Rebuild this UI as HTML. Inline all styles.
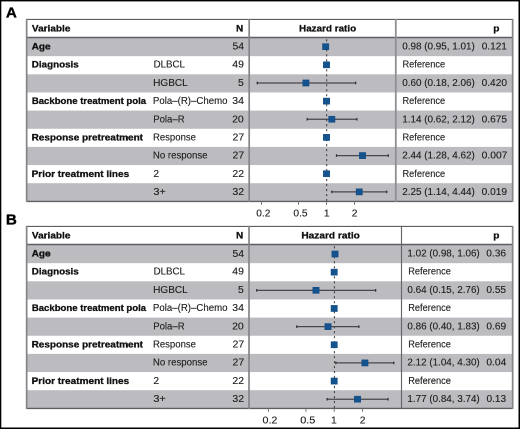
<!DOCTYPE html>
<html><head><meta charset="utf-8"><style>
html,body{margin:0;padding:0;background:#fff;}
body{width:520px;height:429px;overflow:hidden;position:relative;}
#w{position:absolute;left:0;top:0;width:1040px;height:858px;transform-origin:0 0;transform:scale(0.5);will-change:transform;}
svg{display:block;}
text{font-family:"Liberation Sans",sans-serif;fill:#1e1e1e;}
.b{font-weight:bold;font-size:9.6px;fill:#111;stroke:#111;stroke-width:0.3px;}
.r{font-size:9.7px;stroke:#1e1e1e;stroke-width:0.12px;}
.lab{font-weight:bold;font-size:15.2px;fill:#000;stroke:#000;stroke-width:0.35px;}
</style></head><body>
<div id="w"><svg width="1040" height="858" viewBox="0 0 520 429">
<rect x="0" y="0" width="520" height="429" fill="#fff"/>
<text id="a_lab" transform="translate(5.900 17.40) scale(1 1)" class="lab">A</text>
<rect x="26.3" y="19.2" width="486.3" height="182.15" fill="#fff"/>
<rect x="26.3" y="38.00" width="486.3" height="18.15" fill="#bcbbc0"/>
<rect x="26.3" y="74.30" width="486.3" height="18.15" fill="#bcbbc0"/>
<rect x="26.3" y="110.60" width="486.3" height="18.15" fill="#bcbbc0"/>
<rect x="26.3" y="146.90" width="486.3" height="18.15" fill="#bcbbc0"/>
<rect x="26.3" y="183.20" width="486.3" height="18.15" fill="#bcbbc0"/>
<line x1="326.7" y1="39.3" x2="326.7" y2="201.35" stroke="#383838" stroke-width="1.0" stroke-dasharray="2.1 2.89"/>
<line x1="26.3" y1="19.45" x2="512.6" y2="19.45" stroke="#5f5e62" stroke-width="1.2"/>
<line x1="26.3" y1="37.5" x2="512.6" y2="37.5" stroke="#5f5e62" stroke-width="1.4"/>
<line x1="26.3" y1="201.45" x2="512.6" y2="201.45" stroke="#5f5e62" stroke-width="1.3"/>
<line x1="26.66" y1="18.9" x2="26.66" y2="202.04999999999998" stroke="#858488" stroke-width="1.7"/>
<line x1="249.2" y1="18.9" x2="249.2" y2="202.04999999999998" stroke="#858488" stroke-width="1.7"/>
<line x1="395.8" y1="18.9" x2="395.8" y2="202.04999999999998" stroke="#908f93" stroke-width="1.8"/>
<line x1="512.66" y1="18.9" x2="512.66" y2="202.04999999999998" stroke="#858488" stroke-width="1.7"/>
<text id="a_hv" transform="translate(31.936 31.40) scale(1.0459 1)" class="b">Variable</text>
<text id="a_hn" transform="translate(236.049 31.40) scale(1.0406 1)" class="b">N</text>
<text id="a_hhr" transform="translate(299.059 31.40) scale(1.0292 1)" class="b">Hazard ratio</text>
<text id="a_hp" transform="translate(493.258 31.40) scale(1.0544 1)" class="b">p</text>
<text id="a_v0" transform="translate(31.568 49.50) scale(1.0520 1)" class="b">Age</text>
<text id="a_n0" transform="translate(232.522 49.50) scale(1.0690 1)" class="r">54</text>
<text id="a_hr0" transform="translate(402.188 49.50) scale(1.0208 1)" class="r">0.98 (0.95, 1.01)</text>
<text id="a_p0" transform="translate(481.718 49.50) scale(1.0379 1)" class="r">0.121</text>
<line x1="324.43" y1="46.68" x2="326.90" y2="46.68" stroke="#48484c" stroke-width="1.25"/>
<line x1="324.43" y1="45.38" x2="324.43" y2="47.98" stroke="#2a2a2a" stroke-width="1.2"/>
<line x1="326.90" y1="45.38" x2="326.90" y2="47.98" stroke="#2a2a2a" stroke-width="1.2"/>
<rect x="322.48" y="43.58" width="6.4" height="6.2" fill="#14538e" stroke="#0f4a82" stroke-width="0.45"/>
<text id="a_v1" transform="translate(31.810 67.69) scale(1.0240 1)" class="b">Diagnosis</text>
<text id="a_s1" transform="translate(153.606 67.69) scale(1.0039 1)" class="r">DLBCL</text>
<text id="a_n1" transform="translate(232.260 67.69) scale(1.0800 1)" class="r">49</text>
<text id="a_hr1" transform="translate(402.451 67.69) scale(0.9546 1)" class="r">Reference</text>
<rect x="323.30" y="61.72" width="6.4" height="6.2" fill="#14538e" stroke="#0f4a82" stroke-width="0.45"/>
<text id="a_s2" transform="translate(153.175 85.88) scale(1.0353 1)" class="r">HGBCL</text>
<text id="a_n2" transform="translate(237.999 85.88) scale(1.0800 1)" class="r">5</text>
<text id="a_hr2" transform="translate(402.188 85.88) scale(1.0208 1)" class="r">0.60 (0.18, 2.06)</text>
<text id="a_p2" transform="translate(481.582 85.88) scale(1.0484 1)" class="r">0.420</text>
<line x1="257.24" y1="82.97" x2="355.69" y2="82.97" stroke="#48484c" stroke-width="1.25"/>
<line x1="257.24" y1="81.67" x2="257.24" y2="84.27" stroke="#2a2a2a" stroke-width="1.2"/>
<line x1="355.69" y1="81.67" x2="355.69" y2="84.27" stroke="#2a2a2a" stroke-width="1.2"/>
<rect x="302.67" y="79.88" width="6.4" height="6.2" fill="#14538e" stroke="#0f4a82" stroke-width="0.45"/>
<text id="a_v3" transform="translate(31.826 104.07) scale(0.9972 1)" class="b">Backbone treatment pola</text>
<text id="a_s3" transform="translate(152.917 104.07) scale(0.9959 1)" class="r">Pola–(R)–Chemo</text>
<text id="a_n3" transform="translate(232.284 104.07) scale(1.0800 1)" class="r">34</text>
<text id="a_hr3" transform="translate(402.451 104.07) scale(0.9546 1)" class="r">Reference</text>
<rect x="323.30" y="98.02" width="6.4" height="6.2" fill="#14538e" stroke="#0f4a82" stroke-width="0.45"/>
<text id="a_s4" transform="translate(153.241 122.26) scale(0.9869 1)" class="r">Pola–R</text>
<text id="a_n4" transform="translate(232.108 122.26) scale(1.0800 1)" class="r">20</text>
<text id="a_hr4" transform="translate(402.188 122.26) scale(1.0208 1)" class="r">1.14 (0.62, 2.12)</text>
<text id="a_p4" transform="translate(481.631 122.26) scale(1.0462 1)" class="r">0.675</text>
<line x1="307.19" y1="119.27" x2="356.85" y2="119.27" stroke="#48484c" stroke-width="1.25"/>
<line x1="307.19" y1="117.97" x2="307.19" y2="120.57" stroke="#2a2a2a" stroke-width="1.2"/>
<line x1="356.85" y1="117.97" x2="356.85" y2="120.57" stroke="#2a2a2a" stroke-width="1.2"/>
<rect x="328.59" y="116.17" width="6.4" height="6.2" fill="#14538e" stroke="#0f4a82" stroke-width="0.45"/>
<text id="a_v5" transform="translate(31.601 140.45) scale(1.0403 1)" class="b">Response pretreatment</text>
<text id="a_s5" transform="translate(152.939 140.45) scale(0.9861 1)" class="r">Response</text>
<text id="a_n5" transform="translate(232.561 140.45) scale(1.0800 1)" class="r">27</text>
<text id="a_hr5" transform="translate(402.451 140.45) scale(0.9546 1)" class="r">Reference</text>
<rect x="323.30" y="134.32" width="6.4" height="6.2" fill="#14538e" stroke="#0f4a82" stroke-width="0.45"/>
<text id="a_s6" transform="translate(152.913 158.64) scale(0.9955 1)" class="r">No response</text>
<text id="a_n6" transform="translate(232.560 158.64) scale(1.0800 1)" class="r">27</text>
<text id="a_hr6" transform="translate(402.188 158.64) scale(1.0208 1)" class="r">2.44 (1.28, 4.62)</text>
<text id="a_p6" transform="translate(481.631 158.64) scale(1.0617 1)" class="r">0.007</text>
<line x1="336.47" y1="155.57" x2="388.31" y2="155.57" stroke="#48484c" stroke-width="1.25"/>
<line x1="336.47" y1="154.27" x2="336.47" y2="156.87" stroke="#2a2a2a" stroke-width="1.2"/>
<line x1="388.31" y1="154.27" x2="388.31" y2="156.87" stroke="#2a2a2a" stroke-width="1.2"/>
<rect x="359.33" y="152.47" width="6.4" height="6.2" fill="#14538e" stroke="#0f4a82" stroke-width="0.45"/>
<text id="a_v7" transform="translate(31.597 176.83) scale(1.0473 1)" class="b">Prior treatment lines</text>
<text id="a_s7" transform="translate(153.376 176.83) scale(1.0600 1)" class="r">2</text>
<text id="a_n7" transform="translate(232.421 176.83) scale(1.0800 1)" class="r">22</text>
<text id="a_hr7" transform="translate(402.451 176.83) scale(0.9546 1)" class="r">Reference</text>
<rect x="323.30" y="170.62" width="6.4" height="6.2" fill="#14538e" stroke="#0f4a82" stroke-width="0.45"/>
<text id="a_s8" transform="translate(153.354 195.02) scale(1.1255 1)" class="r">3+</text>
<text id="a_n8" transform="translate(232.396 195.02) scale(1.0800 1)" class="r">32</text>
<text id="a_hr8" transform="translate(402.188 195.02) scale(1.0208 1)" class="r">2.25 (1.14, 4.44)</text>
<text id="a_p8" transform="translate(481.615 195.02) scale(1.0497 1)" class="r">0.019</text>
<line x1="331.79" y1="191.87" x2="386.71" y2="191.87" stroke="#48484c" stroke-width="1.25"/>
<line x1="331.79" y1="190.57" x2="331.79" y2="193.17" stroke="#2a2a2a" stroke-width="1.2"/>
<line x1="386.71" y1="190.57" x2="386.71" y2="193.17" stroke="#2a2a2a" stroke-width="1.2"/>
<rect x="356.05" y="188.77" width="6.4" height="6.2" fill="#14538e" stroke="#0f4a82" stroke-width="0.45"/>
<line x1="261.50" y1="202.35" x2="261.50" y2="204.65" stroke="#5a5a5a" stroke-width="0.95"/>
<text id="a_ax0" transform="translate(256.250 216.50) scale(1.0469 1)" class="r">0.2</text>
<line x1="298.50" y1="202.35" x2="298.50" y2="204.65" stroke="#5a5a5a" stroke-width="0.95"/>
<text id="a_ax1" transform="translate(293.436 216.50) scale(1.0510 1)" class="r">0.5</text>
<line x1="326.50" y1="202.35" x2="326.50" y2="204.65" stroke="#5a5a5a" stroke-width="0.95"/>
<text id="a_ax2" transform="translate(323.865 216.50) scale(1.0600 1)" class="r">1</text>
<line x1="354.50" y1="202.35" x2="354.50" y2="204.65" stroke="#5a5a5a" stroke-width="0.95"/>
<text id="a_ax3" transform="translate(351.719 216.50) scale(1.0600 1)" class="r">2</text>
<text id="b_lab" transform="translate(5.900 224.40) scale(1 1)" class="lab">B</text>
<rect x="26.3" y="226.2" width="486.3" height="182.15000000000003" fill="#fff"/>
<rect x="26.3" y="245.00" width="486.3" height="18.15" fill="#bcbbc0"/>
<rect x="26.3" y="281.30" width="486.3" height="18.15" fill="#bcbbc0"/>
<rect x="26.3" y="317.60" width="486.3" height="18.15" fill="#bcbbc0"/>
<rect x="26.3" y="353.90" width="486.3" height="18.15" fill="#bcbbc0"/>
<rect x="26.3" y="390.20" width="486.3" height="18.15" fill="#bcbbc0"/>
<line x1="334.4" y1="246.3" x2="334.4" y2="408.35" stroke="#383838" stroke-width="1.0" stroke-dasharray="2.1 2.89"/>
<line x1="26.3" y1="226.45" x2="512.6" y2="226.45" stroke="#5f5e62" stroke-width="1.2"/>
<line x1="26.3" y1="244.5" x2="512.6" y2="244.5" stroke="#5f5e62" stroke-width="1.4"/>
<line x1="26.3" y1="408.45000000000005" x2="512.6" y2="408.45000000000005" stroke="#5f5e62" stroke-width="1.3"/>
<line x1="26.66" y1="225.89999999999998" x2="26.66" y2="409.05" stroke="#858488" stroke-width="1.7"/>
<line x1="249.0" y1="225.89999999999998" x2="249.0" y2="409.05" stroke="#858488" stroke-width="1.7"/>
<line x1="401.5" y1="225.89999999999998" x2="401.5" y2="409.05" stroke="#68666a" stroke-width="1.15"/>
<line x1="512.66" y1="225.89999999999998" x2="512.66" y2="409.05" stroke="#858488" stroke-width="1.7"/>
<text id="b_hv" transform="translate(31.936 238.40) scale(1.0459 1)" class="b">Variable</text>
<text id="b_hn" transform="translate(236.049 238.40) scale(1.0406 1)" class="b">N</text>
<text id="b_hhr" transform="translate(301.352 238.40) scale(1.0544 1)" class="b">Hazard ratio</text>
<text id="b_hp" transform="translate(493.258 238.40) scale(1.0544 1)" class="b">p</text>
<text id="b_v0" transform="translate(31.568 256.50) scale(1.0520 1)" class="b">Age</text>
<text id="b_n0" transform="translate(232.522 256.75) scale(1.0690 1)" class="r">54</text>
<text id="b_hr0" transform="translate(407.404 256.50) scale(1.0180 1)" class="r">1.02 (0.98, 1.06)</text>
<text id="b_p0" transform="translate(486.298 256.50) scale(1.0442 1)" class="r">0.36</text>
<line x1="333.38" y1="254.02" x2="336.58" y2="254.02" stroke="#48484c" stroke-width="1.25"/>
<line x1="333.38" y1="252.72" x2="333.38" y2="255.32" stroke="#2a2a2a" stroke-width="1.2"/>
<line x1="336.58" y1="252.72" x2="336.58" y2="255.32" stroke="#2a2a2a" stroke-width="1.2"/>
<rect x="331.81" y="250.92" width="6.4" height="6.2" fill="#14538e" stroke="#0f4a82" stroke-width="0.45"/>
<text id="b_v1" transform="translate(31.810 274.69) scale(1.0240 1)" class="b">Diagnosis</text>
<text id="b_s1" transform="translate(153.606 274.69) scale(1.0039 1)" class="r">DLBCL</text>
<text id="b_n1" transform="translate(232.260 274.69) scale(1.0800 1)" class="r">49</text>
<text id="b_hr1" transform="translate(408.213 274.69) scale(0.9546 1)" class="r">Reference</text>
<rect x="331.00" y="269.07" width="6.4" height="6.2" fill="#14538e" stroke="#0f4a82" stroke-width="0.45"/>
<text id="b_s2" transform="translate(153.175 292.88) scale(1.0353 1)" class="r">HGBCL</text>
<text id="b_n2" transform="translate(237.999 292.88) scale(1.0800 1)" class="r">5</text>
<text id="b_hr2" transform="translate(407.404 292.88) scale(1.0180 1)" class="r">0.64 (0.15, 2.76)</text>
<text id="b_p2" transform="translate(486.433 292.88) scale(1.0384 1)" class="r">0.55</text>
<line x1="256.75" y1="290.32" x2="375.65" y2="290.32" stroke="#48484c" stroke-width="1.25"/>
<line x1="256.75" y1="289.02" x2="256.75" y2="291.62" stroke="#2a2a2a" stroke-width="1.2"/>
<line x1="375.65" y1="289.02" x2="375.65" y2="291.62" stroke="#2a2a2a" stroke-width="1.2"/>
<rect x="312.78" y="287.22" width="6.4" height="6.2" fill="#14538e" stroke="#0f4a82" stroke-width="0.45"/>
<text id="b_v3" transform="translate(31.826 311.07) scale(0.9972 1)" class="b">Backbone treatment pola</text>
<text id="b_s3" transform="translate(152.917 311.07) scale(0.9959 1)" class="r">Pola–(R)–Chemo</text>
<text id="b_n3" transform="translate(232.284 311.07) scale(1.0800 1)" class="r">34</text>
<text id="b_hr3" transform="translate(408.213 311.07) scale(0.9546 1)" class="r">Reference</text>
<rect x="331.00" y="305.37" width="6.4" height="6.2" fill="#14538e" stroke="#0f4a82" stroke-width="0.45"/>
<text id="b_s4" transform="translate(153.241 329.26) scale(0.9869 1)" class="r">Pola–R</text>
<text id="b_n4" transform="translate(232.108 329.26) scale(1.0800 1)" class="r">20</text>
<text id="b_hr4" transform="translate(407.404 329.26) scale(1.0180 1)" class="r">0.86 (0.40, 1.83)</text>
<text id="b_p4" transform="translate(486.412 329.26) scale(1.0420 1)" class="r">0.69</text>
<line x1="296.79" y1="326.62" x2="358.87" y2="326.62" stroke="#48484c" stroke-width="1.25"/>
<line x1="296.79" y1="325.32" x2="296.79" y2="327.93" stroke="#2a2a2a" stroke-width="1.2"/>
<line x1="358.87" y1="325.32" x2="358.87" y2="327.93" stroke="#2a2a2a" stroke-width="1.2"/>
<rect x="324.84" y="323.52" width="6.4" height="6.2" fill="#14538e" stroke="#0f4a82" stroke-width="0.45"/>
<text id="b_v5" transform="translate(31.601 347.45) scale(1.0403 1)" class="b">Response pretreatment</text>
<text id="b_s5" transform="translate(152.939 347.45) scale(0.9861 1)" class="r">Response</text>
<text id="b_n5" transform="translate(232.561 347.45) scale(1.0800 1)" class="r">27</text>
<text id="b_hr5" transform="translate(408.213 347.45) scale(0.9546 1)" class="r">Reference</text>
<rect x="331.00" y="341.67" width="6.4" height="6.2" fill="#14538e" stroke="#0f4a82" stroke-width="0.45"/>
<text id="b_s6" transform="translate(152.913 365.64) scale(0.9955 1)" class="r">No response</text>
<text id="b_n6" transform="translate(232.560 365.64) scale(1.0800 1)" class="r">27</text>
<text id="b_hr6" transform="translate(407.404 365.64) scale(1.0180 1)" class="r">2.12 (1.04, 4.30)</text>
<text id="b_p6" transform="translate(486.382 365.64) scale(1.0530 1)" class="r">0.04</text>
<line x1="335.80" y1="362.92" x2="393.75" y2="362.92" stroke="#48484c" stroke-width="1.25"/>
<line x1="335.80" y1="361.62" x2="335.80" y2="364.22" stroke="#2a2a2a" stroke-width="1.2"/>
<line x1="393.75" y1="361.62" x2="393.75" y2="364.22" stroke="#2a2a2a" stroke-width="1.2"/>
<rect x="361.68" y="359.82" width="6.4" height="6.2" fill="#14538e" stroke="#0f4a82" stroke-width="0.45"/>
<text id="b_v7" transform="translate(31.597 383.83) scale(1.0473 1)" class="b">Prior treatment lines</text>
<text id="b_s7" transform="translate(153.376 383.83) scale(1.0600 1)" class="r">2</text>
<text id="b_n7" transform="translate(232.421 383.83) scale(1.0800 1)" class="r">22</text>
<text id="b_hr7" transform="translate(408.213 383.83) scale(0.9546 1)" class="r">Reference</text>
<rect x="331.00" y="377.97" width="6.4" height="6.2" fill="#14538e" stroke="#0f4a82" stroke-width="0.45"/>
<text id="b_s8" transform="translate(153.354 402.02) scale(1.1255 1)" class="r">3+</text>
<text id="b_n8" transform="translate(232.396 402.02) scale(1.0800 1)" class="r">32</text>
<text id="b_hr8" transform="translate(407.404 402.02) scale(1.0180 1)" class="r">1.77 (0.84, 3.74)</text>
<text id="b_p8" transform="translate(486.451 402.02) scale(1.0437 1)" class="r">0.13</text>
<line x1="327.08" y1="399.22" x2="388.05" y2="399.22" stroke="#48484c" stroke-width="1.25"/>
<line x1="327.08" y1="397.92" x2="327.08" y2="400.52" stroke="#2a2a2a" stroke-width="1.2"/>
<line x1="388.05" y1="397.92" x2="388.05" y2="400.52" stroke="#2a2a2a" stroke-width="1.2"/>
<rect x="354.31" y="396.12" width="6.4" height="6.2" fill="#14538e" stroke="#0f4a82" stroke-width="0.45"/>
<line x1="268.50" y1="409.35" x2="268.50" y2="411.65000000000003" stroke="#5a5a5a" stroke-width="0.95"/>
<text id="b_ax0" transform="translate(262.539 423.50) scale(1.1012 1)" class="r">0.2</text>
<line x1="305.90" y1="409.35" x2="305.90" y2="411.65000000000003" stroke="#5a5a5a" stroke-width="0.95"/>
<text id="b_ax1" transform="translate(300.189 423.50) scale(1.1249 1)" class="r">0.5</text>
<line x1="334.20" y1="409.35" x2="334.20" y2="411.65000000000003" stroke="#5a5a5a" stroke-width="0.95"/>
<text id="b_ax2" transform="translate(331.008 423.50) scale(1.0600 1)" class="r">1</text>
<line x1="362.50" y1="409.35" x2="362.50" y2="411.65000000000003" stroke="#5a5a5a" stroke-width="0.95"/>
<text id="b_ax3" transform="translate(359.770 423.50) scale(1.0600 1)" class="r">2</text>
<rect x="0" y="0" width="520" height="1.4" fill="#000"/>
<rect x="0" y="0" width="1.3" height="429" fill="#000"/>
<rect x="518.5" y="0" width="1.5" height="429" fill="#000"/>
<rect x="0" y="427.5" width="520" height="1.5" fill="#000"/>
</svg></div>
</body></html>
